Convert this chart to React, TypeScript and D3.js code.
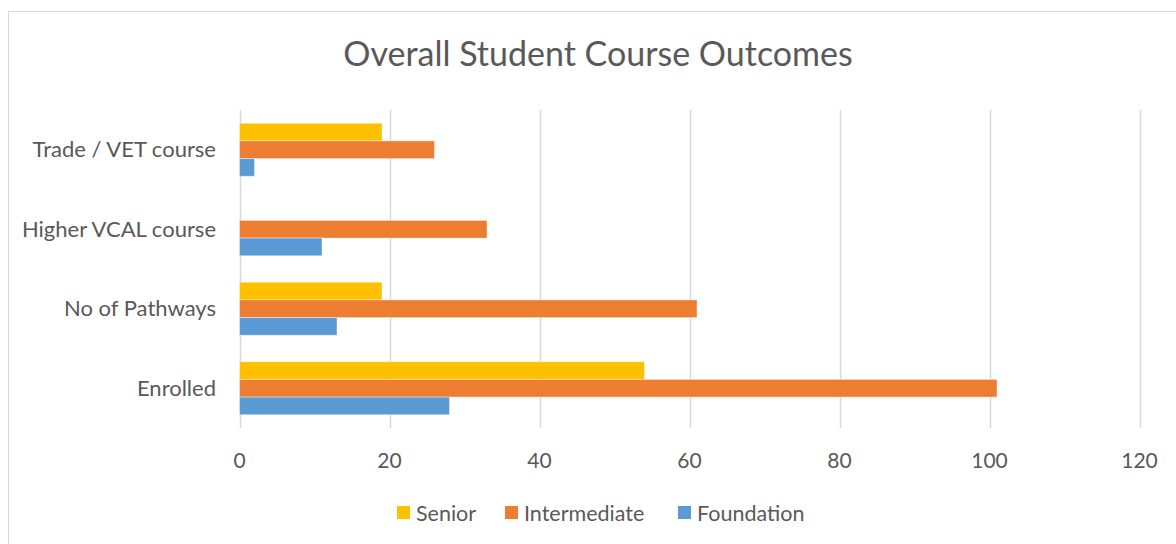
import React from "react";
import * as d3 from "d3";

const categories = ["Trade / VET course", "Higher VCAL course", "No of Pathways", "Enrolled"];
const seriesNames = ["Senior", "Intermediate", "Foundation"];
const senior = [19, 0, 19, 54];
const intermediate = [26, 33, 61, 101];
const foundation = [2, 11, 13, 28];
const xTicks = [0, 20, 40, 60, 80, 100, 120];
const colors = ["#FFC000", "#ED7D31", "#5B9BD5"];

const W = 1176;
const H = 544;
const FONT = "Lato, 'Open Sans', sans-serif";
const TXT = "#595959";

export default function App() {
  const series = [senior, intermediate, foundation];
  const x = d3.scaleLinear().domain([0, 120]).range([239.5, 1139.5]);
  const y = d3.scaleBand<string>().domain(categories).range([110, 428]).paddingInner(0).paddingOuter(0);
  const band = y.bandwidth();
  const barH = band / 4.5;
  const groupOffset = (band - barH * 3) / 2;

  const legendItems = [
    { name: seriesNames[0], sx: 397, tx: 416 },
    { name: seriesNames[1], sx: 505, tx: 524 },
    { name: seriesNames[2], sx: 678, tx: 697 },
  ];

  return (
    <svg width={W} height={H} style={{ position: "absolute", left: 0, top: 0, background: "#fff" }}>
      <rect x={0} y={0} width={W} height={H} fill="#fff" />
      <rect x={8.5} y={11.5} width={W + 10} height={H + 10} fill="#fff" stroke="#d9d9d9" strokeWidth={1} />
      <text x={598} y={66} textAnchor="middle" fontFamily={FONT} fontSize={34} fill={TXT}>
        Overall Student Course Outcomes
      </text>
      {xTicks.map((t) => (
        <line key={"g" + t} x1={Math.round(x(t)) + 0.5} x2={Math.round(x(t)) + 0.5} y1={110} y2={428} stroke="#d9d9d9" strokeWidth={1.5} />
      ))}
      {categories.map((c, ci) => (
        <g key={c}>
          {series.map((s, si) => (
            <rect
              key={si}
              x={x(0)}
              y={(y(c) as number) + groupOffset + si * barH}
              width={x(s[ci]) - x(0)}
              height={barH}
              fill={colors[si]}
              stroke="#fff"
              strokeOpacity={0.4}
              strokeWidth={s[ci] > 0 ? 1 : 0}
            />
          ))}
          <text x={216} y={(y(c) as number) + band / 2} dy="0.35em" textAnchor="end" fontFamily={FONT} fontSize={22} fill={TXT}>
            {c}
          </text>
        </g>
      ))}
      {xTicks.map((t) => (
        <text key={"t" + t} x={x(t)} y={468} textAnchor="middle" fontFamily={FONT} fontSize={21} fill={TXT}>
          {t}
        </text>
      ))}
      {legendItems.map((l, i) => (
        <g key={l.name}>
          <rect x={l.sx} y={506} width={13} height={13} fill={colors[i]} />
          <text x={l.tx} y={520.5} fontFamily={FONT} fontSize={21.5} fill={TXT}>
            {l.name}
          </text>
        </g>
      ))}
    </svg>
  );
}
